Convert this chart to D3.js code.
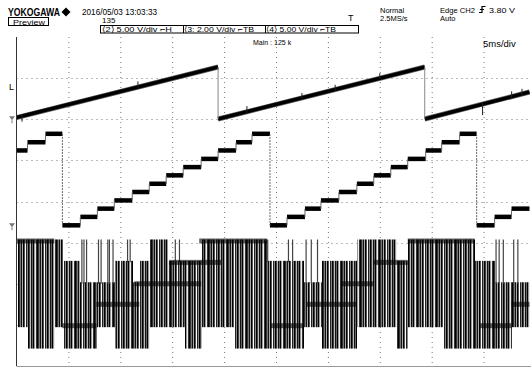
<!DOCTYPE html>
<html><head><meta charset="utf-8">
<script src="https://cdn.jsdelivr.net/npm/d3@7"></script>
<style>body{margin:0;background:#fff}svg{display:block}text{font-family:"Liberation Sans",Arial,sans-serif;fill:#000}</style>
</head><body><svg id="c" width="531" height="369"></svg>
<script>
// ---------- data ----------
const gridTimes = [5,10,15,20,25,30,35,40,45];          // ms (5 ms/div)
const gridDivs  = [-3,-2,-1,0,1,2,3];                    // vertical divisions

// CH2 sawtooth (5 V/div, ground at +2 div)
const sawT = [0, 19.42, 19.42, 39.33, 39.33, 49.42];
const sawV = [0.2, 6.35, 0.03, 6.35, 0.03, 3.31];
const sawSpikeT  = [0.53, 11.7, 22.2, 27.5, 30.7, 35.0, 44.9, 47.7, 48.7];
const sawSpikeLo = [-0.3, 3.8, 0.8, 2.5, 3.5, 4.9, 0.5, 2.6, 2.9];
const sawSpikeHi = [0.5, 4.6, 1.6, 3.2, 4.2, 5.6, 2.0, 3.4, 3.7];

// CH3 staircase (2 V/div, ground at -0.6 div)
const stepT = [0,1.06,2.79,4.42,6.15,7.79,9.42,11.15,12.79,14.42,16.06,17.79,19.42,21.15,22.69,
               24.42,26.06,27.79,29.33,31.06,32.79,34.42,36.06,37.69,39.42,40.96,42.69,44.33,46.06,47.69,49.42];
const stepV = [3.67,4.07,4.48,0.03,0.44,0.84,1.24,1.65,2.05,2.46,2.86,3.26,3.67,4.07,4.48,
               0.03,0.44,0.84,1.24,1.65,2.05,2.46,2.86,3.26,3.67,4.07,4.48,0.03,0.44,0.84];

// CH4 multilevel PWM (5 V/div, ground at -2.5 div)
const pwmLevels = [-5.2,-2.6,0,2.5,5.1,7.7];
const pwmT      = [0,1.06,3.65,4.42,6.06,7.69,9.42,11.15,11.83,12.79,14.52,16.15,17.79,20.96,24.13,27.69,29.42,32.79,36.63,37.69,41.06,44.13,46.06,47.69,49.42];
const pwmTop    = [5,5,5,4,3,3,4,3,4,5,4,4,5,5,4,3,4,5,4,5,5,4,3,3];
const pwmBottom = [1,0,1,0,0,1,0,0,0,1,1,0,1,0,0,1,0,1,0,1,0,0,0,1];
const dwellT0   = [0,4.42,7.69,11.35,14.71,17.6,24.52,27.98,31.25,34.42,37.69,44.62,47.69];
const dwellT1   = [3.65,7.69,11.83,17.79,19.71,24.13,27.69,32.79,34.42,37.69,44.13,47.69,49.42];
const dwellLvl  = [5,1,2,3,4,5,1,2,3,4,5,1,2];
const pwmSpikeT   = [6.3,6.5,6.75,7.9,8.15,8.8,8.95,9.3,10.7,10.95,15.3,15.7,24.0,24.2,26.2,26.6,27.9,28.4,29.0,46.2,46.5,46.9,47.9,48.3];
const pwmSpikeTop = [5,5,5,5,5,5,5,5,5,5,5,5,5,5,5,5,5,5,5,5,5,5,5,5];

// ---------- drawing ----------
const svg = d3.select("#c");
const x = d3.scaleLinear().domain([0,50]).range([16.5,535.5]);
const yDiv = d3.scaleLinear().domain([-4,4]).range([366,37]);
const ch2 = {offset:2, vdiv:5}, ch3 = {offset:-0.6, vdiv:2}, ch4 = {offset:-2.5, vdiv:5};
const yv = (ch,v) => yDiv(ch.offset + v/ch.vdiv);

svg.append("defs").append("clipPath").attr("id","plot")
  .append("rect").attr("x",x(0)).attr("y",yDiv(4)).attr("width",531-x(0)).attr("height",yDiv(-4)-yDiv(4));

// grid
const g = svg.append("g").attr("clip-path","url(#plot)");
g.selectAll(".vg").data(gridTimes).join("line")
  .attr("x1",d=>x(d)+0.5).attr("x2",d=>x(d)+0.5).attr("y1",yDiv(4)).attr("y2",yDiv(-4))
  .attr("stroke","#777").attr("stroke-width",1).attr("stroke-dasharray","1,4");
g.selectAll(".hg").data(gridDivs).join("line")
  .attr("x1",x(0)).attr("x2",531).attr("y1",d=>Math.round(yDiv(d))+0.5).attr("y2",d=>Math.round(yDiv(d))+0.5)
  .attr("stroke","#777").attr("stroke-width",1).attr("stroke-dasharray","1,4");

// frame
svg.append("line").attr("x1",x(0)).attr("x2",x(0)).attr("y1",yDiv(4)).attr("y2",yDiv(-4)).attr("stroke","#333");
svg.append("line").attr("x1",x(0)).attr("x2",531).attr("y1",yDiv(-4)+0.5).attr("y2",yDiv(-4)+0.5).attr("stroke","#999");

// CH4 PWM: per-pixel-column strokes following the read envelope
const shades = ["#000","#333","#777","#111","#aaa","#000","#555","#fff","#222","#888","#000","#444","#bbb","#111","#666","#000","#999","#eee","#333"];
const cols = d3.range(Math.ceil(x(0))+1, 531);
const pwmG = g.append("g");
cols.forEach((px,i) => {
  const t = x.invert(px);
  const k = d3.bisectRight(pwmT, t) - 1;
  if (k < 0 || k >= pwmTop.length) return;
  pwmG.append("line").attr("x1",px+0.5).attr("x2",px+0.5)
    .attr("y1",yv(ch4,pwmLevels[pwmTop[k]])-1.5).attr("y2",yv(ch4,pwmLevels[pwmBottom[k]])+1.5)
    .attr("stroke",shades[i % shades.length]).attr("stroke-width",1);
});
pwmG.selectAll(".sp").data(pwmSpikeT).join("line")
  .attr("x1",d=>x(d)).attr("x2",d=>x(d))
  .attr("y1",(d,i)=>yv(ch4,pwmLevels[pwmSpikeTop[i]])-1.5)
  .attr("y2",(d,i)=>yv(ch4,pwmLevels[d3.bisectRight(pwmT,d)-1 >= 0 ? pwmTop[d3.bisectRight(pwmT,d)-1] : 4]))
  .attr("stroke","#444").attr("stroke-width",1.2);
pwmG.selectAll(".dw").data(dwellLvl).join("rect")
  .attr("x",(d,i)=>x(dwellT0[i])).attr("width",(d,i)=>x(dwellT1[i])-x(dwellT0[i]))
  .attr("y",d=>yv(ch4,pwmLevels[d])-2.5).attr("height",5)
  .attr("fill","#000").attr("opacity",0.6);

// CH3 staircase
const stG = g.append("g");
stG.selectAll(".st").data(stepV).join("rect")
  .attr("x",(d,i)=>x(stepT[i])).attr("width",(d,i)=>x(stepT[i+1])-x(stepT[i]))
  .attr("y",d=>yv(ch3,d)-2.5).attr("height",4.5).attr("fill","#000");
stG.selectAll(".sv").data(stepV.slice(1)).join("line")
  .attr("x1",(d,i)=>x(stepT[i+1])).attr("x2",(d,i)=>x(stepT[i+1]))
  .attr("y1",(d,i)=>yv(ch3,stepV[i])).attr("y2",d=>yv(ch3,d))
  .attr("stroke","#666").attr("stroke-width",1)
  .attr("stroke-dasharray",(d,i)=> d < stepV[i] ? "2,1" : null);

// CH2 sawtooth
const sawPts = sawT.map((t,i)=>[t,sawV[i]]);
const line = d3.line().x(d=>x(d[0])).y(d=>yv(ch2,d[1]));
const segs = [[0,1],[2,3],[4,5]];
segs.forEach(s => {
  const p = sawPts.slice(s[0], s[1]+1);
  g.append("path").attr("d",line(p)).attr("fill","none").attr("stroke","#666").attr("stroke-width",5);
  g.append("path").attr("d",line(p)).attr("fill","none").attr("stroke","#000").attr("stroke-width",3.6);
});
[[1,2],[3,4]].forEach(s => {
  g.append("line").attr("x1",x(sawT[s[0]])).attr("x2",x(sawT[s[1]]))
   .attr("y1",yv(ch2,sawV[s[0]])).attr("y2",yv(ch2,sawV[s[1]])).attr("stroke","#888").attr("stroke-width",1);
});
g.selectAll(".ss").data(sawSpikeT).join("line")
  .attr("x1",d=>x(d)).attr("x2",d=>x(d))
  .attr("y1",(d,i)=>yv(ch2,sawSpikeHi[i])).attr("y2",(d,i)=>yv(ch2,sawSpikeLo[i]))
  .attr("stroke","#222").attr("stroke-width",1);

// left markers
const mk = svg.append("g").attr("fill","#777").attr("stroke","#777");
[[ch2,0],[ch3,0]].forEach(([ch,v]) => {
  const yy = yv(ch,v);
  mk.append("path").attr("d",`M9,${yy-3}L15,${yy-3}L12,${yy+1}Z`).attr("stroke","none");
  mk.append("line").attr("x1",12).attr("x2",12).attr("y1",yy+1).attr("y2",yy+4).attr("stroke-width",1);
});
svg.append("text").attr("x",9).attr("y",yv(ch2,3.8)+2).attr("font-size",9).text("L");

// header
svg.append("text").attr("x",8).attr("y",15.5).attr("font-size",10).attr("font-weight","bold")
  .attr("textLength",52).attr("lengthAdjust","spacingAndGlyphs").text("YOKOGAWA");
svg.append("path").attr("d","M66,7.5L70.5,12L66,16.5L61.5,12Z").attr("fill","#000");
svg.append("text").attr("x",82).attr("y",14.5).attr("font-size",9)
  .attr("textLength",75).attr("lengthAdjust","spacingAndGlyphs").text("2016/05/03 13:03:33");
svg.append("rect").attr("x",8.5).attr("y",17.5).attr("width",40).attr("height",8).attr("fill","none").attr("stroke","#000");
svg.append("text").attr("x",13).attr("y",24.8).attr("font-size",7.5)
  .attr("textLength",32).attr("lengthAdjust","spacingAndGlyphs").text("Preview");
svg.append("text").attr("x",102).attr("y",23).attr("font-size",8).text("135");
svg.append("rect").attr("x",100.5).attr("y",25.5).attr("width",258).attr("height",7.5).attr("fill","none").attr("stroke","#000");
[["⟨2⟩ 5.00 V/div ⌐H",102],["⟨3: 2.00 V/div ⌐TB",184],["⟨4⟩ 5.00 V/div ⌐TB",266]].forEach(([s,xx])=>{
  svg.append("text").attr("x",xx).attr("y",32).attr("font-size",8)
    .attr("textLength",70).attr("lengthAdjust","spacingAndGlyphs").text(s);
});
svg.append("line").attr("x1",183.5).attr("x2",183.5).attr("y1",25.5).attr("y2",33).attr("stroke","#000");
svg.append("line").attr("x1",265.5).attr("x2",265.5).attr("y1",25.5).attr("y2",33).attr("stroke","#000");
svg.append("text").attr("x",348).attr("y",21).attr("font-size",9).text("T");
svg.append("text").attr("x",380).attr("y",12.5).attr("font-size",7.5).text("Normal");
svg.append("text").attr("x",380).attr("y",20.5).attr("font-size",7.5).text("2.5MS/s");
svg.append("text").attr("x",440).attr("y",12.5).attr("font-size",7.5)
  .attr("textLength",35).attr("lengthAdjust","spacingAndGlyphs").text("Edge CH2");
svg.append("path").attr("d","M479,12.5L482,12.5L482,6.5L485.5,6.5M480,9.5L484,9.5").attr("fill","none").attr("stroke","#000").attr("stroke-width",1.2);
svg.append("text").attr("x",489).attr("y",12.5).attr("font-size",7.5)
  .attr("textLength",26).attr("lengthAdjust","spacingAndGlyphs").text("3.80 V");
svg.append("text").attr("x",440).attr("y",20.5).attr("font-size",7.5).text("Auto");
svg.append("text").attr("x",253).attr("y",45).attr("font-size",7).text("Main : 125 k");
svg.append("text").attr("x",483).attr("y",47).attr("font-size",9.5).text("5ms/div");
</script></body></html>
